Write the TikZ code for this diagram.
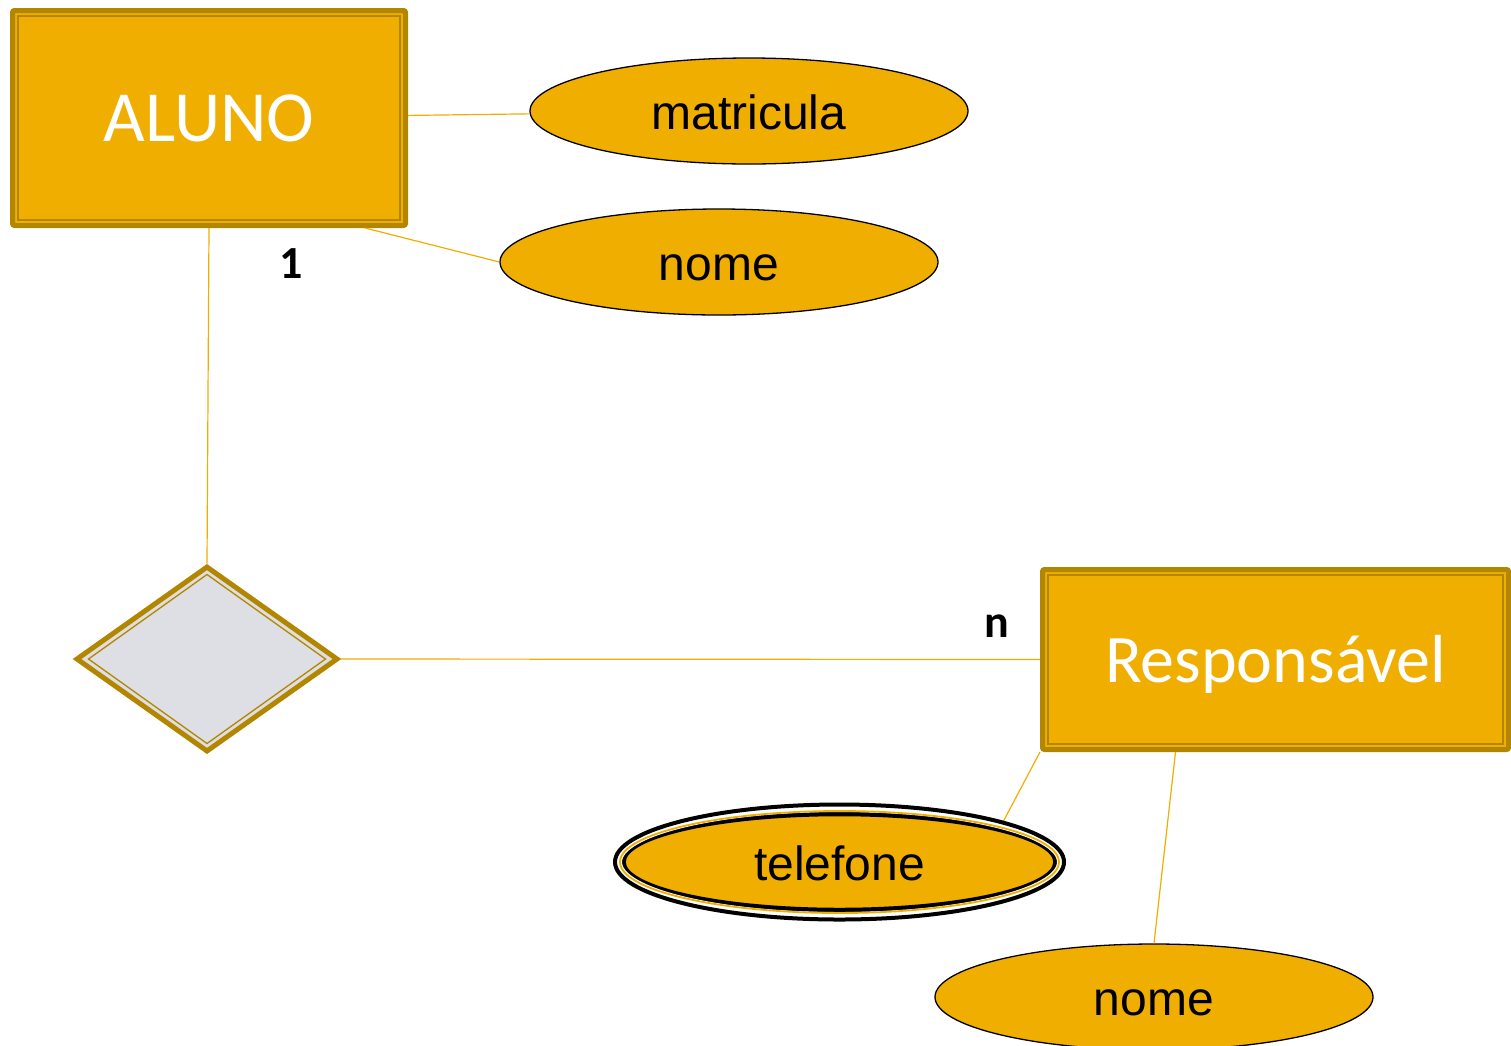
\documentclass[tikz,border=0pt]{standalone}
\usepackage{fontspec}
\usepackage{tikz}
\usetikzlibrary{shapes.geometric}
\newfontfamily\entfont{Carlito}
\newfontfamily\attrfont{Liberation Sans}
\definecolor{gold}{HTML}{F0AE00}
\definecolor{golddark}{HTML}{B38600}
\definecolor{relgray}{HTML}{DEDFE4}
\tikzstyle{entity} = [rectangle, rounded corners=2pt, fill=gold, draw=golddark, line width=5pt, text=white, text height=58pt, text depth=12pt, font=\entfont\fontsize{68}{80}\selectfont]
\tikzstyle{attr} = [ellipse, fill=gold, draw=black, line width=1.3pt, minimum width=438pt, minimum height=106pt, text height=45.6pt, text depth=9.6pt, inner sep=0pt, font=\attrfont\fontsize{48}{56}\selectfont]
\tikzstyle{rel} = [diamond, fill=relgray, draw=golddark, line width=5pt, minimum width=262pt, minimum height=186pt, inner sep=0pt]
\tikzstyle{inner} = [golddark, line width=1.3pt]
\tikzstyle{link} = [gold, line width=1.2pt]
\tikzstyle{card} = [font=\entfont\bfseries\fontsize{46}{54}\selectfont]

\begin{document}
\begin{tikzpicture}[x=1pt, y=-1pt]
	\useasboundingbox (0,0) rectangle (1511,1045);
	\node (aluno) [entity, minimum width=393pt, minimum height=215pt, font=\entfont\fontsize{72}{84}\selectfont] at (209,118) {ALUNO};
	\node (matricula) [attr] at (749,111) {matricula};
	\node (nomeA) [attr] at (719,262) {nome};
	\node (relacao) [rel] at (207,659) {};
	\node (resp) [entity, minimum width=466pt, minimum height=180pt] at (1275.5,659.5) {Respons\'avel};
	\node (telefone) [attr, line width=4.5pt, minimum width=432pt, minimum height=96pt] at (839.5,862) {telefone};
	\node (nomeR) [attr] at (1154,997) {nome};
	\node (c1) [card] at (291,264) {1};
	\node (cn) [card] at (997,626) {n};

	% inner borders
	\draw [inner] ([xshift=8pt,yshift=-8pt]aluno.north west) rectangle ([xshift=-8pt,yshift=8pt]aluno.south east);
	\draw [inner] ([xshift=8pt,yshift=-8pt]resp.north west) rectangle ([xshift=-8pt,yshift=8pt]resp.south east);
	\draw [inner] ([yshift=-11pt]relacao.north) -- ([xshift=-15pt]relacao.east) -- ([yshift=11pt]relacao.south) -- ([xshift=15pt]relacao.west) -- cycle;

	\draw [link] (aluno) -- (matricula);
	\draw [link] ([xshift=-43pt]aluno.south east) -- (nomeA.west);
	\draw [link] (aluno.south) -- (relacao.north);
	\draw [link] (relacao.east) -- (resp.west);
	\draw [link] (resp.south west) -- (telefone.12);
	\draw [link] ([xshift=-100pt]resp.south) -- (nomeR.north);

	% multivalued ring
	\draw [white, line width=7pt] (telefone.center) ellipse [x radius=221pt, y radius=53.5pt];
	\draw [gold, line width=1.8pt] (telefone.center) ellipse [x radius=219.5pt, y radius=51pt];
	\draw [black, line width=4pt] (telefone.center) ellipse [x radius=224.5pt, y radius=57.5pt];
\end{tikzpicture}
\end{document}
